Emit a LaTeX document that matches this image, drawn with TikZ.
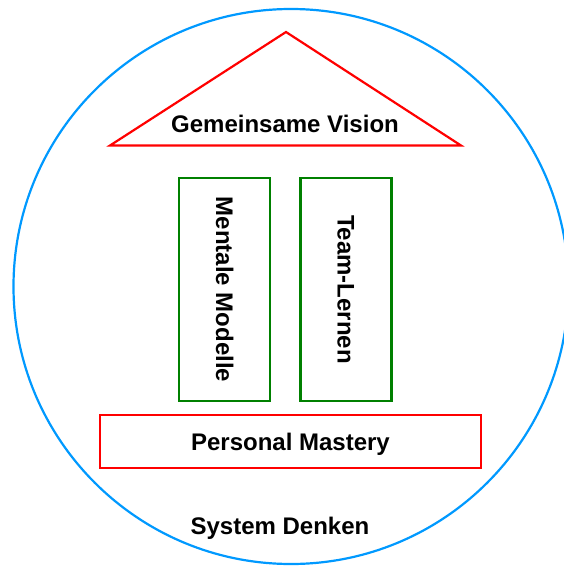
\documentclass[tikz,border=0pt]{standalone}
\usepackage{fontspec}
\setmainfont{Liberation Sans}
\definecolor{circblue}{RGB}{0,153,255}
\definecolor{boxred}{RGB}{255,0,0}
\definecolor{boxgreen}{RGB}{0,128,0}
\begin{document}
\begin{tikzpicture}[x=1pt,y=-1pt,
  lbl/.style={font=\fontsize{24}{28}\selectfont\bfseries, text height=17pt, text depth=0pt, inner sep=0pt},
  pillar/.style={lbl, draw=boxgreen, line width=2.2pt, minimum width=223pt, minimum height=91pt, rotate=-90},
  basebox/.style={lbl, draw=boxred, line width=2.2pt, minimum width=381pt, minimum height=53pt}]
\useasboundingbox (0,0) rectangle (563,568);
\coordinate (cc) at (291,286.5);
\draw[circblue, line width=2.2pt] (cc) circle[radius=277.5];
\coordinate (apex) at (286,32);
\coordinate (bl) at (110,145.5);
\coordinate (br) at (461,145.5);
\draw[boxred, line width=2.2pt, line join=miter] (bl) -- (apex) -- (br) -- cycle;
\node[lbl] (vision) at (285,124) {Gemeinsame Vision};
\node[pillar] (mm) at (224.5,289.5) {Mentale Modelle};
\node[pillar] (tl) at (346,289.5) {Team-Lernen};
\node[basebox] (pm) at (290.5,441.5) {Personal Mastery};
\node[lbl] (sd) at (280,525.5) {System Denken};
\end{tikzpicture}
\end{document}
